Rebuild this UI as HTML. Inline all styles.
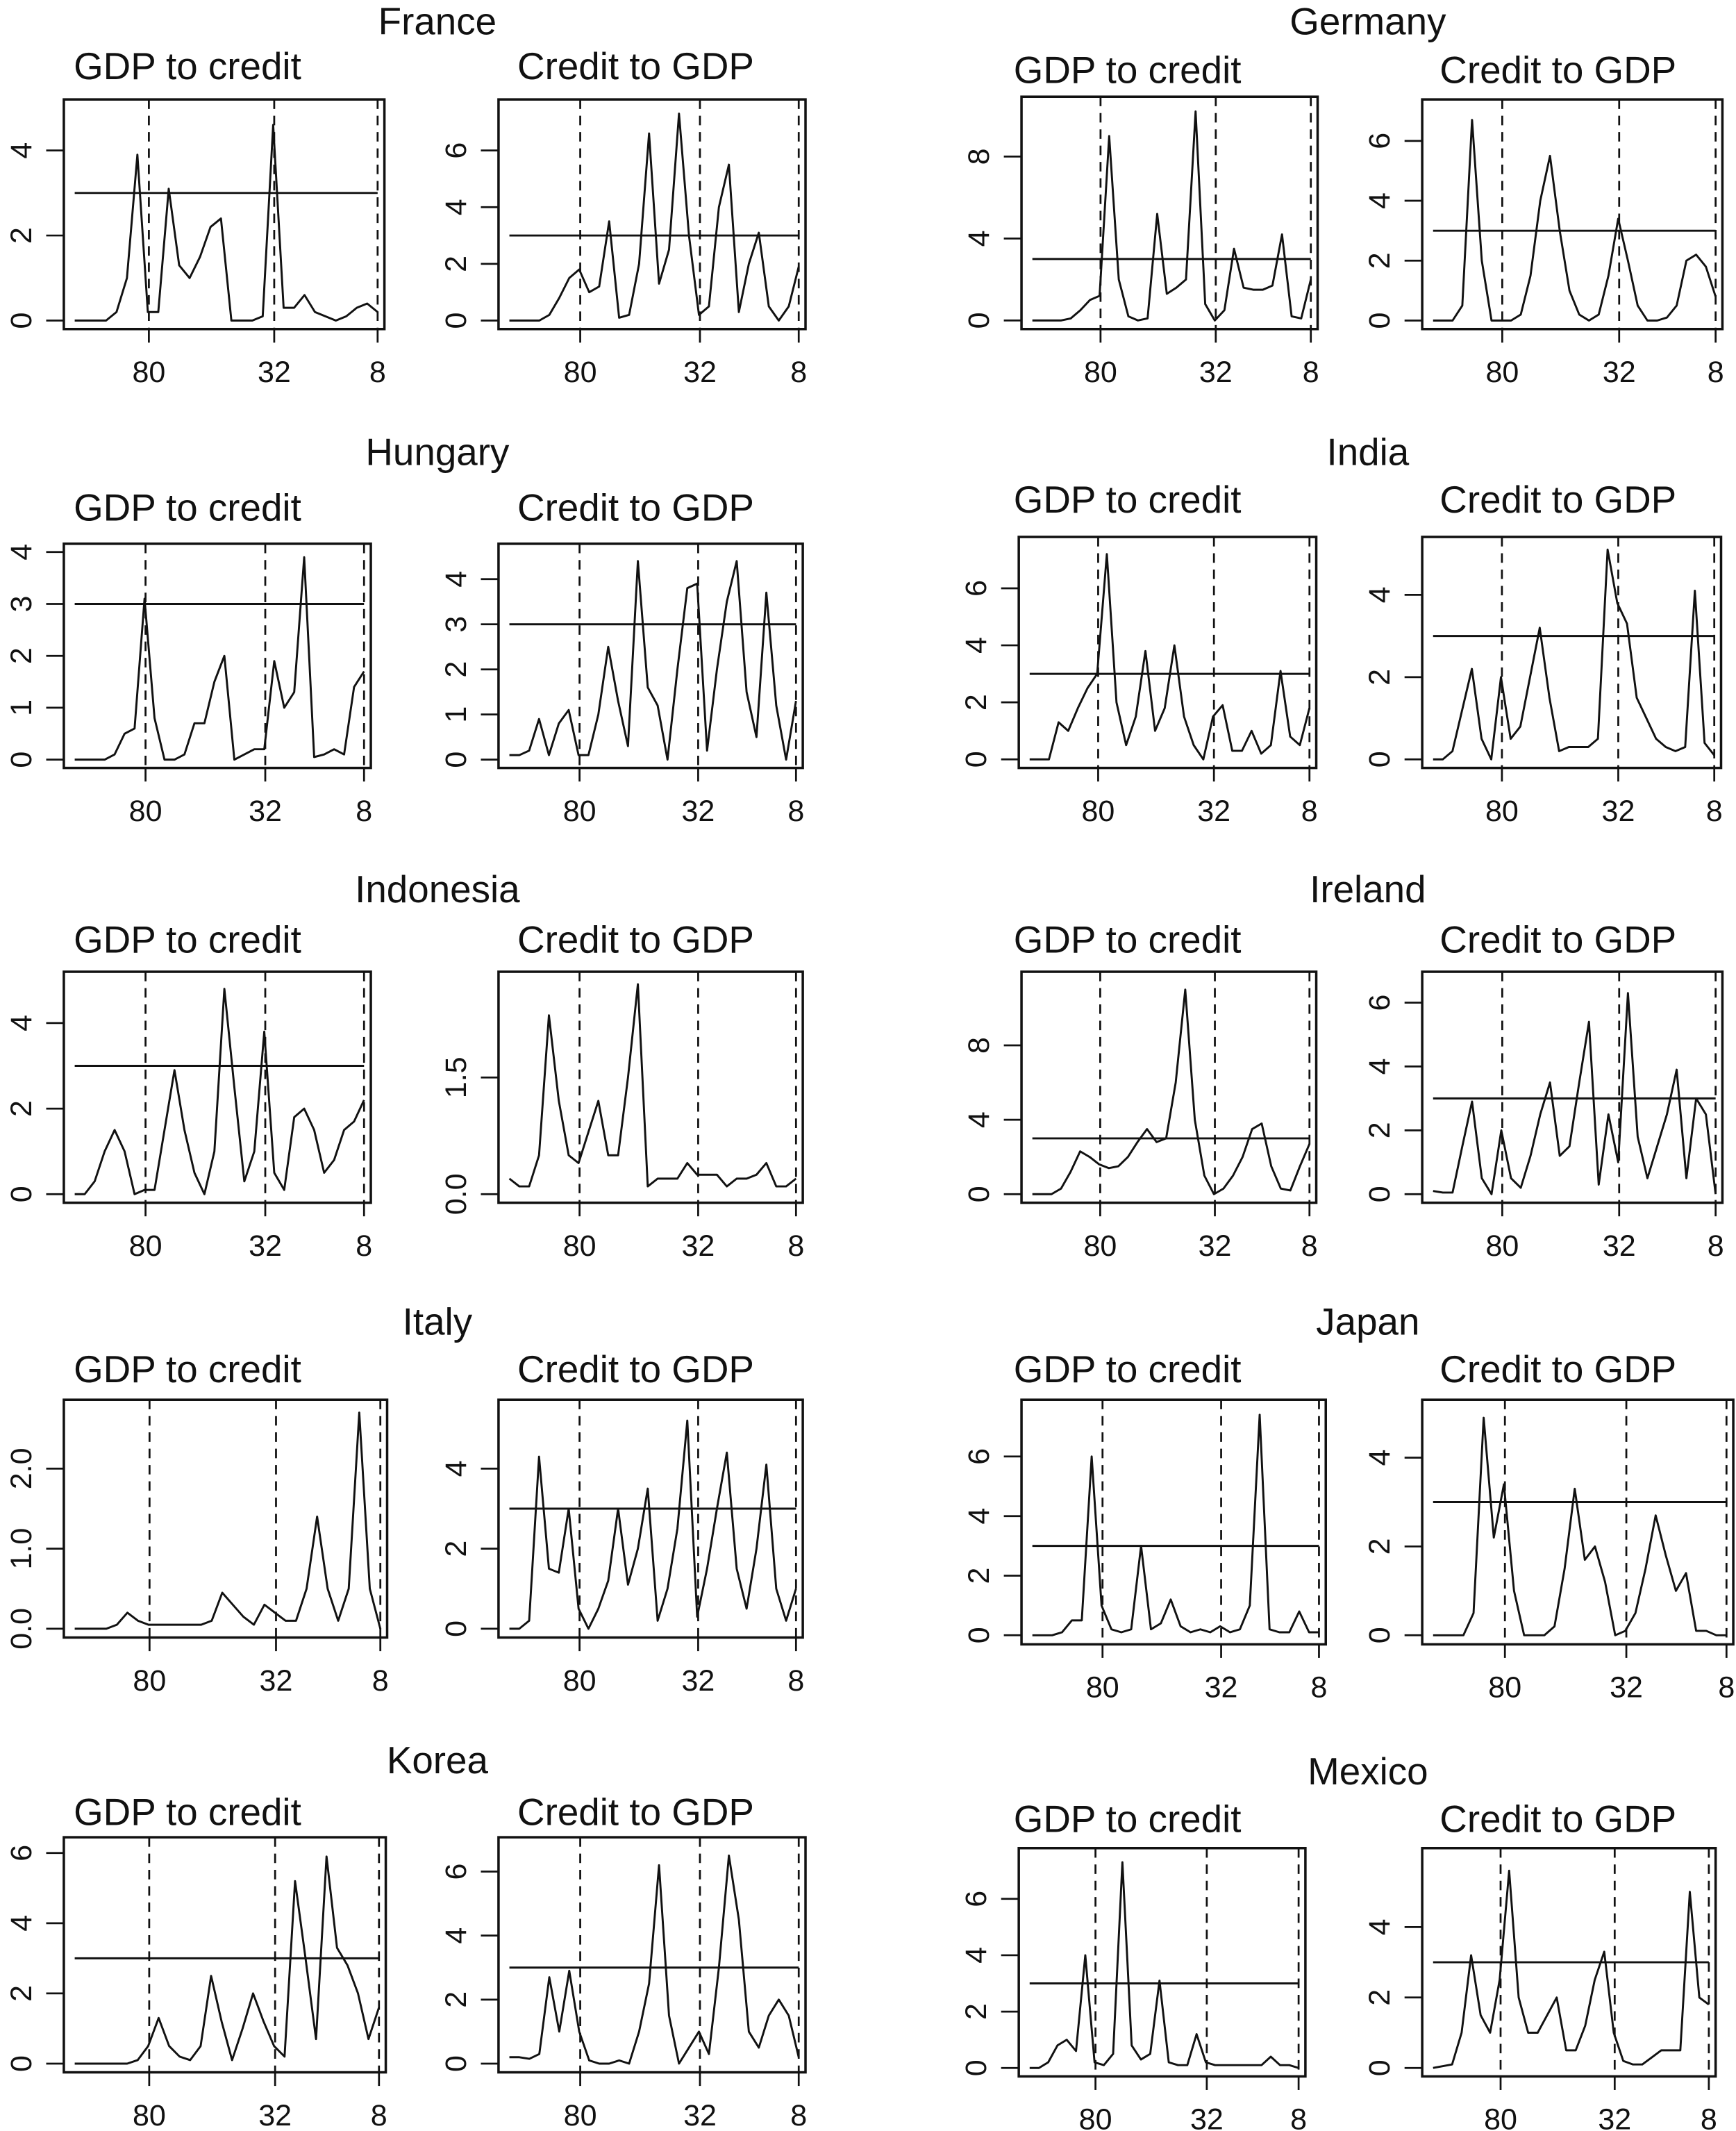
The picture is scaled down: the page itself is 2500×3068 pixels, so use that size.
<!DOCTYPE html>
<html><head><meta charset="utf-8"><style>
html,body{margin:0;padding:0;background:#fff}
svg{display:block}
text{font-family:"Liberation Sans",sans-serif;fill:#111}
</style></head><body>
<svg id="chart" width="2500" height="3068" viewBox="0 0 1278 1568" xmlns="http://www.w3.org/2000/svg"></svg>
<script>
const xTickLabels = ["80","32","8"];
const xTickIndex = [7.1,19.1,29];
const threshold = 3;
const franceGdp = [0,0,0,0,0.2,1,3.9,0.2,0.2,3.1,1.3,1.0,1.5,2.2,2.4,0,0,0,0.1,4.6,0.3,0.3,0.6,0.2,0.1,0,0.1,0.3,0.4,0.2];
const franceCredit = [0,0,0,0,0.2,0.8,1.5,1.8,1.0,1.2,3.5,0.1,0.2,2,6.6,1.3,2.5,7.3,3,0.2,0.5,4,5.5,0.3,2,3.1,0.5,0,0.5,1.9];
const germanyGdp = [0,0,0,0,0.1,0.5,1.0,1.2,9,2,0.2,0,0.1,5.2,1.3,1.6,2,10.2,0.8,0,0.5,3.5,1.6,1.5,1.5,1.7,4.2,0.2,0.1,2];
const germanyCredit = [0,0,0,0.5,6.7,2,0,0,0,0.2,1.5,4,5.5,3,1,0.2,0,0.2,1.5,3.4,2,0.5,0,0,0.1,0.5,2,2.2,1.8,0.8];
const hungaryGdp = [0,0,0,0,0.1,0.5,0.6,3.1,0.8,0,0,0.1,0.7,0.7,1.5,2,0,0.1,0.2,0.2,1.9,1.0,1.3,3.9,0.05,0.1,0.2,0.1,1.4,1.7];
const hungaryCredit = [0.1,0.1,0.2,0.9,0.1,0.8,1.1,0.1,0.1,1,2.5,1.3,0.3,4.4,1.6,1.2,0,2,3.8,3.9,0.2,2,3.5,4.4,1.5,0.5,3.7,1.2,0,1.3];
const indiaGdp = [0,0,0,1.3,1,1.8,2.5,3,7.2,2,0.5,1.5,3.8,1,1.8,4,1.5,0.5,0,1.5,1.9,0.3,0.3,1,0.2,0.5,3.1,0.8,0.5,1.8];
const indiaCredit = [0,0,0.2,1.2,2.2,0.5,0,2,0.5,0.8,2,3.2,1.5,0.2,0.3,0.3,0.3,0.5,5.1,3.8,3.3,1.5,1,0.5,0.3,0.2,0.3,4.1,0.4,0.1];
const indonesiaGdp = [0,0,0.3,1,1.5,1,0,0.1,0.1,1.5,2.9,1.5,0.5,0,1,4.8,2.5,0.3,1,3.8,0.5,0.1,1.8,2,1.5,0.5,0.8,1.5,1.7,2.2];
const indonesiaCredit = [0.2,0.1,0.1,0.5,2.3,1.2,0.5,0.4,0.8,1.2,0.5,0.5,1.5,2.7,0.1,0.2,0.2,0.2,0.4,0.25,0.25,0.25,0.1,0.2,0.2,0.25,0.4,0.1,0.1,0.2];
const irelandGdp = [0,0,0,0.3,1.2,2.3,2,1.6,1.4,1.5,2,2.8,3.5,2.8,3,6,11,4,1,0,0.3,1,2,3.5,3.8,1.5,0.3,0.2,1.5,2.7];
const irelandCredit = [0.1,0.05,0.05,1.5,2.9,0.5,0,2,0.5,0.2,1.2,2.5,3.5,1.2,1.5,3.5,5.4,0.3,2.5,1,6.3,1.8,0.5,1.5,2.5,3.9,0.5,3,2.5,0];
const italyGdp = [0,0,0,0,0.05,0.2,0.1,0.05,0.05,0.05,0.05,0.05,0.05,0.1,0.45,0.3,0.15,0.05,0.3,0.2,0.1,0.1,0.5,1.4,0.5,0.1,0.5,2.7,0.5,0];
const italyCredit = [0,0,0.2,4.3,1.5,1.4,3,0.5,0,0.5,1.2,3,1.1,2,3.5,0.2,1,2.5,5.2,0.3,1.5,3,4.4,1.5,0.5,2,4.1,1,0.2,1];
const japanGdp = [0,0,0,0.1,0.5,0.5,6,1,0.2,0.1,0.2,3,0.2,0.4,1.2,0.3,0.1,0.2,0.1,0.3,0.1,0.2,1,7.4,0.2,0.1,0.1,0.8,0.1,0.1];
const japanCredit = [0,0,0,0,0.5,4.9,2.2,3.4,1,0,0,0,0.2,1.5,3.3,1.7,2,1.2,0,0.1,0.5,1.5,2.7,1.8,1,1.4,0.1,0.1,0,0];
const koreaGdp = [0,0,0,0,0,0,0.1,0.5,1.3,0.5,0.2,0.1,0.5,2.5,1.2,0.1,1,2,1.2,0.5,0.2,5.2,3,0.7,5.9,3.3,2.8,2,0.7,1.6];
const koreaCredit = [0.2,0.2,0.15,0.3,2.7,1,2.9,1,0.1,0,0,0.1,0,1,2.5,6.2,1.5,0,0.5,1,0.3,3,6.5,4.5,1,0.5,1.5,2,1.5,0.2];
const mexicoGdp = [0,0,0.2,0.8,1,0.6,4,0.2,0.1,0.5,7.3,0.8,0.3,0.5,3.1,0.2,0.1,0.1,1.2,0.2,0.1,0.1,0.1,0.1,0.1,0.1,0.4,0.1,0.1,0];
const mexicoCredit = [0,0.05,0.1,1,3.2,1.5,1,2.5,5.6,2,1,1,1.5,2,0.5,0.5,1.2,2.5,3.3,1,0.2,0.1,0.1,0.3,0.5,0.5,0.5,5,2,1.8];

const countries = [
 {name:"France", cx:322, ty:15, sy:48, sx:[138,468], boxes:[[47,73,283,242],[367,73,593,242]], yMax:[5,7.5], yTicks:[["0","2","4"],["0","2","4","6"]], series:[franceGdp,franceCredit]},
 {name:"Germany", cx:1007, ty:15, sy:51, sx:[830,1147], boxes:[[752,71,970,242],[1047,73,1268,242]], yMax:[10.5,7.1], yTicks:[["0","4","8"],["0","2","4","6"]], series:[germanyGdp,germanyCredit]},
 {name:"Hungary", cx:322, ty:332, sy:373, sx:[138,468], boxes:[[47,400,273,565],[367,400,591,565]], yMax:[4,4.6], yTicks:[["0","1","2","3","4"],["0","1","2","3","4"]], series:[hungaryGdp,hungaryCredit]},
 {name:"India", cx:1007, ty:332, sy:367, sx:[830,1147], boxes:[[750,395,969,565],[1047,395,1267,565]], yMax:[7.5,5.2], yTicks:[["0","2","4","6"],["0","2","4"]], series:[indiaGdp,indiaCredit]},
 {name:"Indonesia", cx:322, ty:654, sy:691, sx:[138,468], boxes:[[47,715,273,885],[367,715,591,885]], yMax:[5,2.75], yTicks:[["0","2","4"],["0.0","1.5"]], series:[indonesiaGdp,indonesiaCredit]},
 {name:"Ireland", cx:1007, ty:654, sy:691, sx:[830,1147], boxes:[[752,715,969,885],[1047,715,1268,885]], yMax:[11.5,6.7], yTicks:[["0","4","8"],["0","2","4","6"]], series:[irelandGdp,irelandCredit]},
 {name:"Italy", cx:322, ty:972, sy:1007, sx:[138,468], boxes:[[47,1030,285,1205],[367,1030,591,1205]], yMax:[2.75,5.5], yTicks:[["0.0","1.0","2.0"],["0","2","4"]], series:[italyGdp,italyCredit]},
 {name:"Japan", cx:1007, ty:972, sy:1007, sx:[830,1147], boxes:[[752,1030,976,1210],[1047,1030,1276,1210]], yMax:[7.6,5.1], yTicks:[["0","2","4","6"],["0","2","4"]], series:[japanGdp,japanCredit]},
 {name:"Korea", cx:322, ty:1295, sy:1333, sx:[138,468], boxes:[[47,1352,284,1525],[367,1352,593,1525]], yMax:[6.2,6.8], yTicks:[["0","2","4","6"],["0","2","4","6"]], series:[koreaGdp,koreaCredit]},
 {name:"Mexico", cx:1007, ty:1303, sy:1338, sx:[830,1147], boxes:[[750,1360,961,1528],[1047,1360,1263,1528]], yMax:[7.5,6], yTicks:[["0","2","4","6"],["0","2","4"]], series:[mexicoGdp,mexicoCredit]}
];
const subtitles = ["GDP to credit","Credit to GDP"];
const NS = "http://www.w3.org/2000/svg";
const svg = document.getElementById('chart');
function mk(tag, attrs, parent){ const e=document.createElementNS(NS,tag); for(const k in attrs) e.setAttribute(k,attrs[k]); (parent||svg).appendChild(e); return e; }

countries.forEach(c=>{
  const g = mk('g',{});
  
  
  const t = mk('text',{x:c.cx,y:c.ty+10,'text-anchor':'middle','font-size':28},g);
  t.textContent = c.name;
  
  
  c.boxes.forEach((b,p)=>{
    const [x1,y1,x2,y2] = b;
    const pg = mk('g',{},g);
    
    
    const st = mk('text',{x:c.sx[p],y:c.sy+10,'text-anchor':'middle','font-size':28},pg);
    st.textContent = subtitles[p];
    
    
    const ymax = c.yMax[p];
    const h = y2-y1;
    const ys = v => y2 - (0.04*ymax + v)/(1.08*ymax)*h;
    const xs0 = x1+8, xs1 = x2-5;
    const xs = i => xs0 + i*(xs1-xs0)/29;
    xTickIndex.forEach((ti,k)=>{
      const x = xs(ti);
      const dl = mk('line',{x1:x,y1:y1,x2:x,y2:y2,stroke:'#111','stroke-width':1.4,'stroke-dasharray':'7,5'},pg);
      
      
      const tk = mk('line',{x1:x,y1:y2,x2:x,y2:y2+10,stroke:'#111','stroke-width':1.4},pg);
      
      
      const tl = mk('text',{x:x,y:y2+39,'text-anchor':'middle','font-size':22},pg);
      tl.textContent = xTickLabels[k];
      
      
    });
    c.yTicks[p].forEach(lbl=>{
      const y = ys(parseFloat(lbl));
      const tk = mk('line',{x1:x1-13,y1:y,x2:x1,y2:y,stroke:'#111','stroke-width':1.4},pg);
      
      
      const tl = mk('text',{x:0,y:0,'text-anchor':'middle','font-size':22,transform:`translate(${x1-24},${y}) rotate(-90)`},pg);
      tl.textContent = lbl;
      
      
    });
    if (threshold < ymax) {
      const hl = mk('line',{x1:xs0,y1:ys(threshold),x2:xs1,y2:ys(threshold),stroke:'#111','stroke-width':1.5},pg);
      
      
    }
    const pts = c.series[p].map((v,i)=>xs(i).toFixed(2)+','+ys(v).toFixed(2)).join(' ');
    const pl = mk('polyline',{points:pts,fill:'none',stroke:'#111','stroke-width':1.5,'stroke-linejoin':'round'},pg);
    
    
    const r = mk('rect',{x:x1,y:y1,width:x2-x1,height:y2-y1,fill:'none',stroke:'#111','stroke-width':1.8},pg);
    
    
  });
});
</script>
</body></html>
